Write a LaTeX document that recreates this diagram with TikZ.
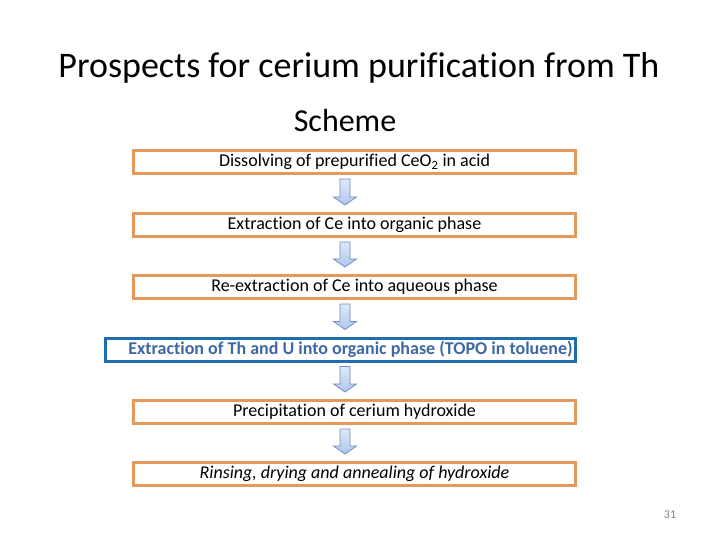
\documentclass[tikz,border=0pt]{standalone}
\usepackage{fontspec}
\setmainfont[Ligatures=NoCommon]{Carlito}
\usepackage{tikz}
\usetikzlibrary{calc}
\usetikzlibrary{positioning}
\definecolor{boxorange}{RGB}{228,152,92}
\definecolor{boxblue}{RGB}{32,108,176}
\definecolor{textblue}{RGB}{62,104,164}
\definecolor{arrowline}{RGB}{112,142,194}
\definecolor{arrowfill}{RGB}{176,198,236}

\begin{document}
\begin{tikzpicture}[x=1bp,y=-1bp,
    step box/.style={rectangle,draw=boxorange,line width=3bp,minimum width=442bp,minimum height=23bp,inner sep=0pt,font=\fontsize{18bp}{20bp}\selectfont},
    key box/.style={step box,draw=boxblue,minimum width=470bp,text=textblue,font=\fontsize{18bp}{20bp}\selectfont\bfseries},
    block arrow/.style={draw=arrowline,line width=0.8bp,top color=white!60!arrowfill,bottom color=arrowfill,line join=miter}]
  \useasboundingbox (0,0) rectangle (720,540);
  \node (title) at (359,68) {\fontsize{36bp}{40bp}\selectfont Prospects for cerium purification from Th};
  \node (scheme) at (345,121) {\fontsize{32bp}{36bp}\selectfont Scheme};
  % steps of the scheme
  \node[step box] (dissolve) at (354.5,162) {Dissolving of prepurified CeO\textsubscript{2} in acid};
  \node[step box] (extract) at (354.5,225) {Extraction of Ce into organic phase};
  \node[step box] (reextract) at (354.5,287) {Re-extraction of Ce into aqueous phase};
  \node[key box] (thu) at (340.5,349.5) {\hspace*{10bp}Extraction of Th and U into organic phase (TOPO in toluene)\hspace*{-10bp}};
  \node[step box] (precip) at (354.5,412) {Precipitation of cerium hydroxide};
  \node[step box] (rinse) at (354.5,474) {\itshape Rinsing, drying and annealing of hydroxide};
  \coordinate (axis) at (345,0);
  \foreach \a/\b in {dissolve/extract,extract/reextract,reextract/thu,thu/precip,precip/rinse}
    \draw[block arrow] let \p1=(axis |- \a.south), \p2=(axis |- \b.north) in
      (\x1-5bp,\y1-4bp) -- (\x1+5bp,\y1-4bp) -- (\x1+5bp,\y2+15bp) -- (\x1+11.5bp,\y2+15bp)
      -- (\x1,\y2+7bp) -- (\x1-11.5bp,\y2+15bp) -- (\x1-5bp,\y2+15bp) -- cycle;
  \node[text=gray,font=\fontsize{12bp}{14bp}\selectfont] (page) at (670,515) {31};
\end{tikzpicture}
\end{document}
